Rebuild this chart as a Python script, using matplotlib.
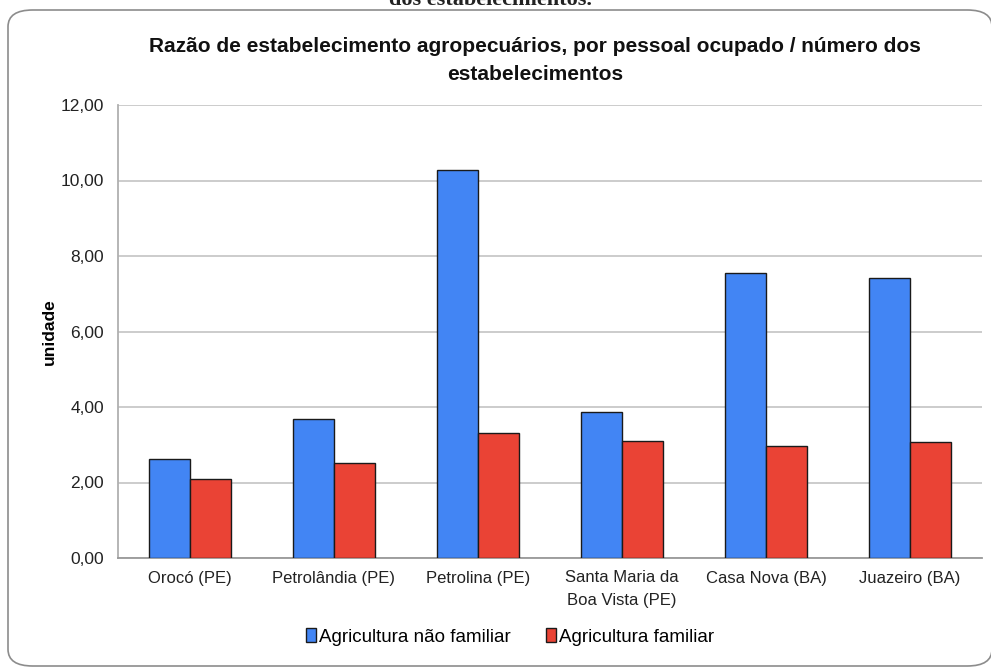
import numpy as np
import matplotlib
matplotlib.use('Agg')
import matplotlib.pyplot as plt
from matplotlib.patches import FancyBboxPatch, Patch

plt.rcParams['font.family'] = ['Liberation Sans', 'DejaVu Sans']

# Data
categories = ['Orocó (PE)', 'Petrolândia (PE)', 'Petrolina (PE)',
              'Santa Maria da\nBoa Vista (PE)', 'Casa Nova (BA)', 'Juazeiro (BA)']
nao_familiar = [2.61, 3.67, 10.28, 3.87, 7.54, 7.41]
familiar = [2.09, 2.51, 3.30, 3.10, 2.97, 3.08]
yticks = [0, 2, 4, 6, 8, 10, 12]

blue = '#4285F4'
red = '#EA4335'

fig = plt.figure(figsize=(9.91, 6.68), dpi=100)
ax = fig.add_axes([118/991, 1 - 558/668, 864/991, 453/668])

# rounded frame around the chart
frame = FancyBboxPatch((8/991, 2/668), 984/991, 1 - 12/668,
                       boxstyle='round,pad=0,rounding_size=0.025',
                       transform=fig.transFigure, facecolor='none',
                       edgecolor='#8c8c8c', linewidth=1.2, zorder=0)
fig.patches.append(frame)

# caption cut off at the top of the page
fig.text(0.495, 1 - 5/668, 'dos estabelecimentos.', ha='center', va='baseline',
         fontsize=16, family='Liberation Serif', fontweight='bold', color='#222222')

x = np.arange(len(categories))
w = 0.288
ax.bar(x - w/2, nao_familiar, w, color=blue, edgecolor='#1a1a1a', linewidth=1,
       label='Agricultura não familiar', zorder=3)
ax.bar(x + w/2, familiar, w, color=red, edgecolor='#1a1a1a', linewidth=1,
       label='Agricultura familiar', zorder=3)

ax.set_xlim(-0.5, len(categories) - 0.5)
ax.set_ylim(0, 12)
ax.set_yticks(yticks)
ax.set_yticklabels([f'{v:.2f}'.replace('.', ',') for v in yticks], fontsize=12.5)
ax.set_xticks(x)
ax.set_xticklabels(categories, fontsize=12, linespacing=1.6)
ax.tick_params(axis='both', length=0, pad=10, colors='#222222')
ax.tick_params(axis='x', pad=9)

ax.grid(axis='y', color='#cccccc', linewidth=1.4, zorder=0)
for s in ['top', 'right']:
    ax.spines[s].set_visible(False)
ax.spines['left'].set_color('#b0b0b0')
ax.spines['bottom'].set_color('#999999')
ax.spines['left'].set_linewidth(1.3)
ax.spines['bottom'].set_linewidth(1.3)

ax.set_ylabel('unidade', fontsize=12.5, fontweight='bold', labelpad=3)

fig.text(535/991, 1 - 61/668,
         'Razão de estabelecimento agropecuários, por pessoal ocupado / número dos\nestabelecimentos',
         ha='center', va='center', fontsize=15, fontweight='bold', linespacing=1.6,
         color='#111111')

handles = [Patch(facecolor=blue, edgecolor='#1a1a1a'),
           Patch(facecolor=red, edgecolor='#1a1a1a')]
fig.legend(handles, ['Agricultura não familiar', 'Agricultura familiar'],
           loc='center', bbox_to_anchor=(510/991, 1 - 637/668), ncol=2,
           frameon=False, fontsize=13.5, handlelength=0.55, handleheight=0.75,
           handletextpad=0.15, columnspacing=1.9)

fig.savefig('out.png', dpi=100)
